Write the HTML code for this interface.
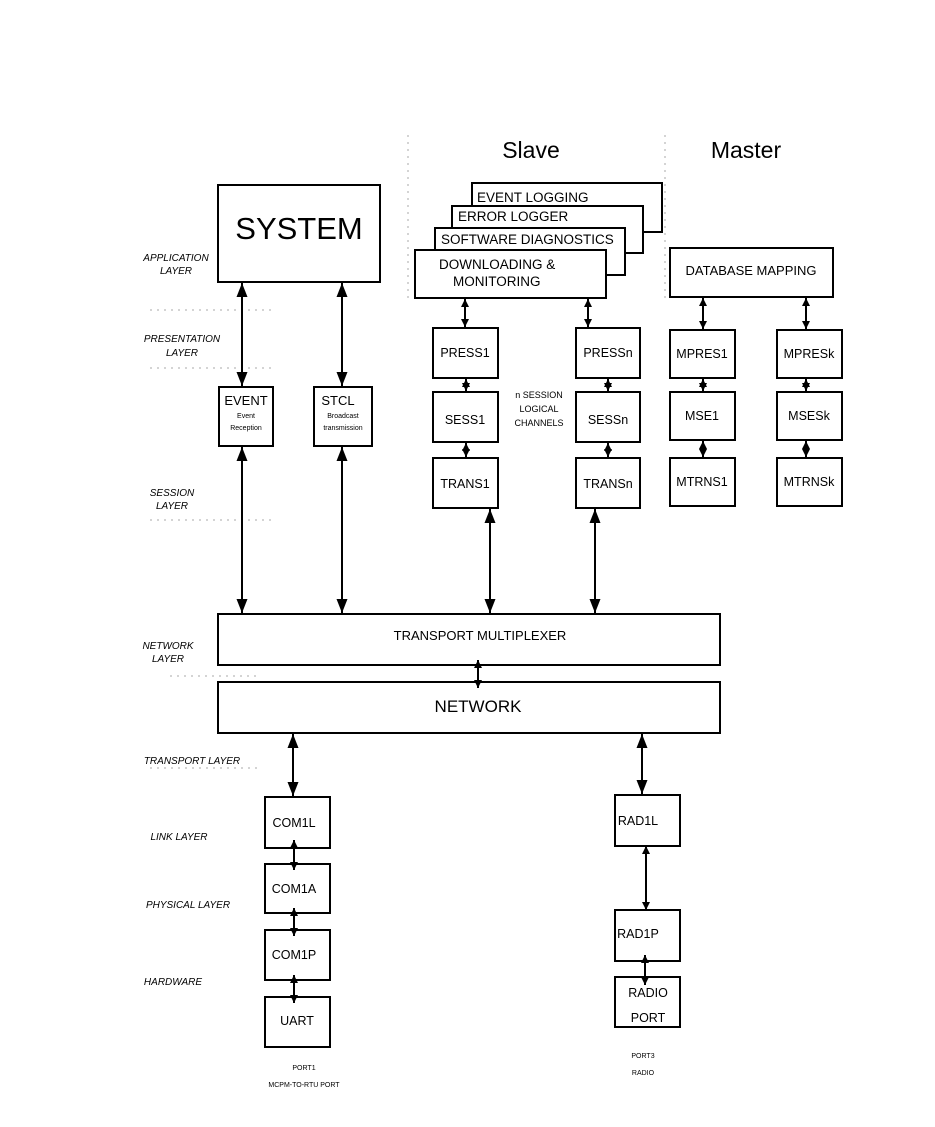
<!DOCTYPE html>
<html><head><meta charset="utf-8"><style>body{margin:0;background:#fff}svg{display:block}text{font-family:"Liberation Sans",sans-serif;fill:#000}.i{font-style:italic;font-size:10px}</style></head><body>
<svg width="935" height="1127" viewBox="0 0 935 1127">
<defs>
<marker id="a" viewBox="0 0 10 10" refX="10" refY="5" markerWidth="8" markerHeight="8" markerUnits="userSpaceOnUse" orient="auto-start-reverse"><path d="M0,0L10,5L0,10z"/></marker>
<marker id="b" viewBox="0 0 10 10" refX="10" refY="5" markerWidth="14" markerHeight="11" markerUnits="userSpaceOnUse" orient="auto-start-reverse" preserveAspectRatio="none"><path d="M0,0L10,5L0,10z"/></marker>
</defs>
<g stroke="#aaa" stroke-width="1" stroke-dasharray="2,5">
<line x1="408" y1="135" x2="408" y2="300"/><line x1="665" y1="135" x2="665" y2="300"/>
<line x1="150" y1="310" x2="272" y2="310"/><line x1="150" y1="368" x2="272" y2="368"/>
<line x1="150" y1="520" x2="272" y2="520"/><line x1="170" y1="676" x2="260" y2="676"/>
<line x1="150" y1="768" x2="260" y2="768"/>
</g>
<text x="531" y="158" font-size="23" text-anchor="middle">Slave</text>
<text x="746" y="158" font-size="23" text-anchor="middle">Master</text>
<g fill="#fff" stroke="#000" stroke-width="2">
<rect x="218" y="185" width="162" height="97"/>
<rect x="472" y="183" width="190" height="49"/>
<rect x="452" y="206" width="191" height="47"/>
<rect x="435" y="228" width="190" height="47"/>
<rect x="415" y="250" width="191" height="48"/>
<rect x="670" y="248" width="163" height="49"/>
<rect x="219" y="387" width="54" height="59"/><rect x="314" y="387" width="58" height="59"/>
<rect x="433" y="328" width="65" height="50"/><rect x="433" y="392" width="65" height="50"/><rect x="433" y="458" width="65" height="50"/>
<rect x="576" y="328" width="64" height="50"/><rect x="576" y="392" width="64" height="50"/><rect x="576" y="458" width="64" height="50"/>
<rect x="670" y="330" width="65" height="48"/><rect x="670" y="392" width="65" height="48"/><rect x="670" y="458" width="65" height="48"/>
<rect x="777" y="330" width="65" height="48"/><rect x="777" y="392" width="65" height="48"/><rect x="777" y="458" width="65" height="48"/>
<rect x="218" y="614" width="502" height="51"/><rect x="218" y="682" width="502" height="51"/>
<rect x="265" y="797" width="65" height="51"/><rect x="265" y="864" width="65" height="49"/><rect x="265" y="930" width="65" height="50"/><rect x="265" y="997" width="65" height="50"/>
<rect x="615" y="795" width="65" height="51"/><rect x="615" y="910" width="65" height="51"/><rect x="615" y="977" width="65" height="50"/>
</g>
<g stroke="#000" stroke-width="2">
<g marker-start="url(#b)" marker-end="url(#b)">
<line x1="242" y1="283" x2="242" y2="386"/><line x1="342" y1="283" x2="342" y2="386"/>
<line x1="293" y1="734" x2="293" y2="796"/><line x1="642" y1="734" x2="642" y2="794"/>
</g>
<g marker-start="url(#b)"><line x1="242" y1="447" x2="242" y2="614"/><line x1="342" y1="447" x2="342" y2="614"/><line x1="490" y1="509" x2="490" y2="614"/><line x1="595" y1="509" x2="595" y2="614"/></g>
<g marker-end="url(#b)"><line x1="242" y1="520" x2="242" y2="613"/><line x1="342" y1="520" x2="342" y2="613"/><line x1="490" y1="560" x2="490" y2="613"/><line x1="595" y1="560" x2="595" y2="613"/></g>
<g marker-start="url(#a)" marker-end="url(#a)">
<line x1="465" y1="299" x2="465" y2="327"/><line x1="588" y1="299" x2="588" y2="327"/>
<line x1="466" y1="379" x2="466" y2="391"/><line x1="466" y1="443" x2="466" y2="457"/>
<line x1="608" y1="379" x2="608" y2="391"/><line x1="608" y1="443" x2="608" y2="457"/>
<line x1="703" y1="298" x2="703" y2="329"/><line x1="806" y1="298" x2="806" y2="329"/>
<line x1="703" y1="379" x2="703" y2="391"/><line x1="703" y1="441" x2="703" y2="457"/>
<line x1="806" y1="379" x2="806" y2="391"/><line x1="806" y1="441" x2="806" y2="457"/>
<line x1="478" y1="660" x2="478" y2="688"/>
<line x1="294" y1="840" x2="294" y2="870"/><line x1="294" y1="908" x2="294" y2="936"/><line x1="294" y1="975" x2="294" y2="1003"/>
<line x1="646" y1="846" x2="646" y2="910"/><line x1="645" y1="955" x2="645" y2="985"/>
</g>
</g>
<text x="299" y="239" font-size="31" text-anchor="middle">SYSTEM</text>
<text x="477" y="202" font-size="13.5">EVENT LOGGING</text>
<text x="458" y="221" font-size="13.5">ERROR LOGGER</text>
<text x="441" y="244" font-size="13.5">SOFTWARE DIAGNOSTICS</text>
<text x="439" y="269" font-size="13.5">DOWNLOADING &amp;</text>
<text x="453" y="286" font-size="13.5">MONITORING</text>
<text x="751" y="275" font-size="13" text-anchor="middle">DATABASE MAPPING</text>
<text x="246" y="405" font-size="13" text-anchor="middle">EVENT</text>
<text x="246" y="418" font-size="7" text-anchor="middle">Event</text>
<text x="246" y="430" font-size="7" text-anchor="middle">Reception</text>
<text x="338" y="405" font-size="13" text-anchor="middle">STCL</text>
<text x="343" y="418" font-size="7" text-anchor="middle">Broadcast</text>
<text x="343" y="430" font-size="7" text-anchor="middle">transmission</text>
<g font-size="12.5" text-anchor="middle">
<text x="465" y="357">PRESS1</text><text x="465" y="424">SESS1</text><text x="465" y="488">TRANS1</text>
<text x="608" y="357">PRESSn</text><text x="608" y="424">SESSn</text><text x="608" y="488">TRANSn</text>
<text x="702" y="358">MPRES1</text><text x="702" y="420">MSE1</text><text x="702" y="486">MTRNS1</text>
<text x="809" y="358">MPRESk</text><text x="809" y="420">MSESk</text><text x="809" y="486">MTRNSk</text>
<text x="294" y="827">COM1L</text><text x="294" y="893">COM1A</text><text x="294" y="959">COM1P</text><text x="297" y="1025">UART</text>
<text x="638" y="825">RAD1L</text>
<text x="638" y="938">RAD1P</text><text x="648" y="997">RADIO</text><text x="648" y="1022">PORT</text>
</g>
<text x="539" y="398" font-size="9" text-anchor="middle">n SESSION</text>
<text x="539" y="412" font-size="9" text-anchor="middle">LOGICAL</text>
<text x="539" y="426" font-size="9" text-anchor="middle">CHANNELS</text>
<text x="480" y="640" font-size="13" text-anchor="middle">TRANSPORT  MULTIPLEXER</text>
<text x="478" y="712" font-size="17" text-anchor="middle">NETWORK</text>
<g font-size="7" text-anchor="middle"><text x="304" y="1070">PORT1</text><text x="304" y="1087">MCPM-TO-RTU PORT</text><text x="643" y="1058">PORT3</text><text x="643" y="1075">RADIO</text></g>
<g class="i" text-anchor="middle">
<text x="176" y="261">APPLICATION</text><text x="176" y="274">LAYER</text>
<text x="182" y="342">PRESENTATION</text><text x="182" y="356">LAYER</text>
<text x="172" y="496">SESSION</text><text x="172" y="509">LAYER</text>
<text x="168" y="649">NETWORK</text><text x="168" y="662">LAYER</text>
<text x="192" y="764">TRANSPORT LAYER</text>
<text x="179" y="840">LINK LAYER</text>
<text x="188" y="908">PHYSICAL LAYER</text>
<text x="173" y="985">HARDWARE</text>
</g>
</svg>
</body></html>
